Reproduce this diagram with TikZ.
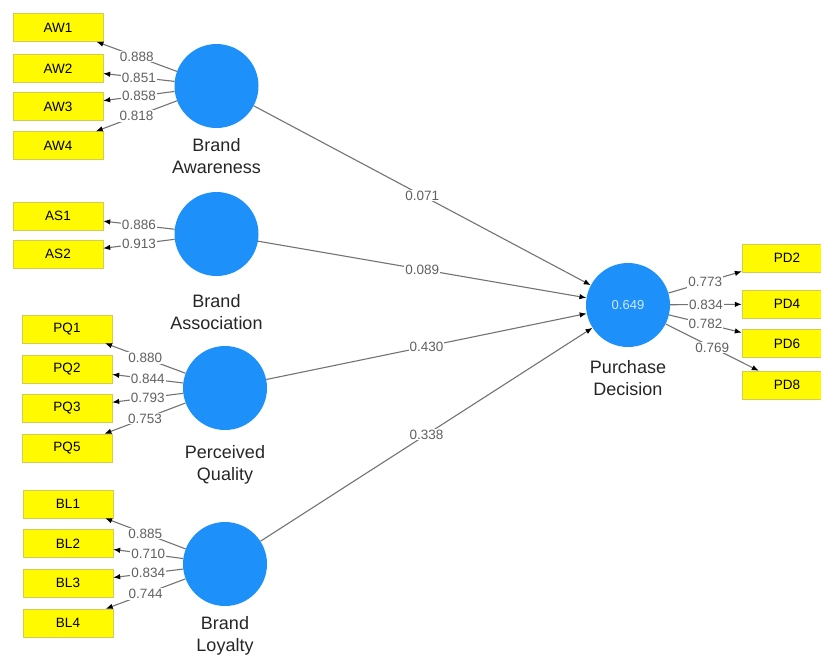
\documentclass[tikz,border=0pt]{standalone}
\usepackage{fontspec}
\setmainfont{Liberation Sans}
\usetikzlibrary{arrows.meta,positioning}
\definecolor{lvblue}{RGB}{30,144,250}
\definecolor{mvyellow}{RGB}{255,250,0}

\begin{document}
\begin{tikzpicture}[x=1pt,y=-1pt,
item/.style={draw=yellow!60!gray,fill=mvyellow,minimum width=90pt,minimum height=28pt,inner sep=0pt,font=\fontsize{13.5}{13.5}\selectfont},
latent/.style={circle,fill=lvblue,minimum size=84pt,inner sep=0pt},
lbl/.style={align=center,inner sep=0pt,text=black!85,font=\fontsize{18}{22}\selectfont},
path/.style={draw=black!55,line width=1.1pt,-{Latex[length=7pt,width=5.5pt,black]}},
coef/.style={midway,fill=white,inner sep=1pt,text=black!62,font=\fontsize{13.5}{13.5}\selectfont}]

\useasboundingbox (0,0) rectangle (821,657);

        % latent variables
        \node [latent] (BA) at (216.5,86) {};
        \node [latent] (BS) at (216.5,234) {};
        \node [latent] (PQ) at (225,388) {};
        \node [latent] (BL) at (225,564) {};
        \node [latent] (PD) at (628,305) {\fontsize{13}{13}\selectfont\color{white!80!lvblue}0.649};

        \node [lbl, below = 10.5pt of BA] (BAl) {Brand\\Awareness};
        \node [lbl, below = 18.5pt of BS] (BSl) {Brand\\Association};
        \node [lbl, below = 15.5pt of PQ] (PQl) {Perceived\\Quality};
        \node [lbl, below = 10.5pt of BL] (BLl) {Brand\\Loyalty};
        \node [lbl, below = 13.5pt of PD] (PDl) {Purchase\\Decision};

        % indicators
        \node [item] (AW1) at (58,27.5) {AW1};
        \node [item] (AW2) at (58,68.5) {AW2};
        \node [item] (AW3) at (58,106.5) {AW3};
        \node [item] (AW4) at (58,145.5) {AW4};
        \node [item] (AS1) at (58,216) {AS1};
        \node [item] (AS2) at (58,254) {AS2};
        \node [item] (PQ1) at (67,329) {PQ1};
        \node [item] (PQ2) at (67,369) {PQ2};
        \node [item] (PQ3) at (67,408) {PQ3};
        \node [item] (PQ5) at (67,448) {PQ5};
        \node [item] (BL1) at (68,504) {BL1};
        \node [item] (BL2) at (68,543.5) {BL2};
        \node [item] (BL3) at (68,583) {BL3};
        \node [item] (BL4) at (68,623) {BL4};
        \node [item] (PD2) at (787,258) {PD2};
        \node [item] (PD4) at (787,304) {PD4};
        \node [item] (PD6) at (787,343.5) {PD6};
        \node [item] (PD8) at (787,385) {PD8};

        % loadings
        \draw [path] (BA) -- node [coef] {0.888} (AW1);
        \draw [path] (BA) -- node [coef] {0.851} (AW2);
        \draw [path] (BA) -- node [coef] {0.858} (AW3);
        \draw [path] (BA) -- node [coef] {0.818} (AW4);
        \draw [path] (BS) -- node [coef] {0.886} (AS1);
        \draw [path] (BS) -- node [coef] {0.913} (AS2);
        \draw [path] (PQ) -- node [coef] {0.880} (PQ1);
        \draw [path] (PQ) -- node [coef] {0.844} (PQ2);
        \draw [path] (PQ) -- node [coef] {0.793} (PQ3);
        \draw [path] (PQ) -- node [coef] {0.753} (PQ5);
        \draw [path] (BL) -- node [coef] {0.885} (BL1);
        \draw [path] (BL) -- node [coef] {0.710} (BL2);
        \draw [path] (BL) -- node [coef] {0.834} (BL3);
        \draw [path] (BL) -- node [coef] {0.744} (BL4);
        \draw [path] (PD) -- node [coef] {0.773} (PD2);
        \draw [path] (PD) -- node [coef] {0.834} (PD4);
        \draw [path] (PD) -- node [coef] {0.782} (PD6);
        \draw [path] (PD) -- node [coef] {0.769} (PD8);

        % structural paths
        \draw [path] (BA) -- node [coef] {0.071} (PD);
        \draw [path] (BS) -- node [coef] {0.089} (PD);
        \draw [path] (PQ) -- node [coef] {0.430} (PD);
        \draw [path] (BL) -- node [coef] {0.338} (PD);
    \end{tikzpicture}
\end{document}
